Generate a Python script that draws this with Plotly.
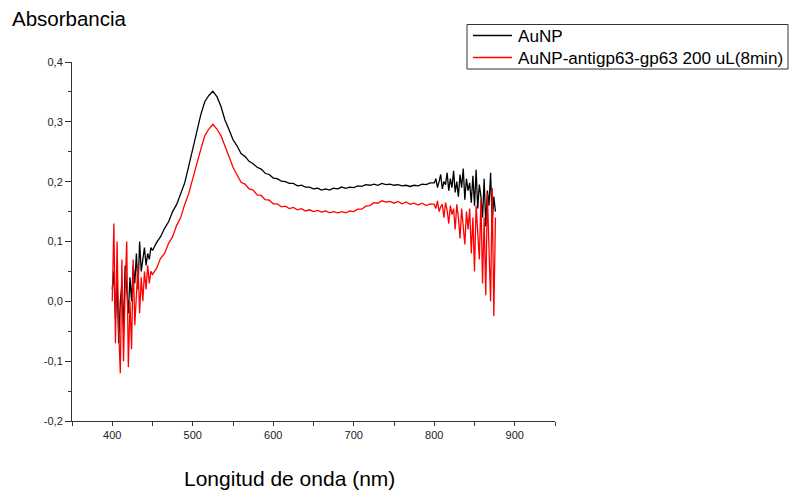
import plotly.graph_objects as go

# Wavelength grids (nm)
wl_left = list(range(400, 450, 2))          # 400..448
wl_mid = list(range(450, 800, 5))           # 450..795
wl_right = list(range(800, 877, 2))         # 800..876

# AuNP absorbance
aunp_left = [0.02, 0.05, -0.03, 0.04, -0.07, 0.0, 0.03, -0.05, 0.06, 0.01,
             -0.02, 0.04, 0.0, 0.06, 0.03, 0.08, 0.02, 0.1, 0.05, 0.07,
             0.09, 0.06, 0.08, 0.07, 0.09]
aunp_mid = [0.085, 0.098, 0.108, 0.122, 0.133, 0.15, 0.162, 0.18, 0.198, 0.226,
            0.255, 0.288, 0.312, 0.334, 0.344, 0.351, 0.342, 0.326, 0.303, 0.287,
            0.27, 0.26, 0.247, 0.242, 0.234, 0.23, 0.224, 0.221, 0.214, 0.212,
            0.206, 0.205, 0.201, 0.2, 0.197, 0.197, 0.193, 0.194, 0.191, 0.191,
            0.188, 0.189, 0.186, 0.188, 0.186, 0.189, 0.188, 0.191, 0.189, 0.191,
            0.19, 0.193, 0.192, 0.195, 0.194, 0.196, 0.194, 0.197, 0.195, 0.196,
            0.194, 0.195, 0.193, 0.194, 0.192, 0.194, 0.193, 0.196, 0.195, 0.198]
aunp_right = [0.198, 0.205, 0.19, 0.2, 0.212, 0.188, 0.2, 0.195, 0.215, 0.185,
              0.205, 0.19, 0.218, 0.182, 0.2, 0.175, 0.212, 0.19, 0.222, 0.17,
              0.205, 0.185, 0.198, 0.165, 0.21, 0.16, 0.22, 0.155, 0.195, 0.175,
              0.14, 0.205, 0.125, 0.185, 0.16, 0.215, 0.13, 0.175, 0.15]

# AuNP-antigp63-gp63 absorbance
conj_left = [0.0, 0.13, -0.07, 0.1, -0.05, -0.12, 0.07, -0.1, 0.02, 0.1,
             -0.11, 0.0, -0.08, 0.07, -0.04, 0.02, 0.06, -0.02, 0.04, 0.0,
             0.05, 0.02, 0.06, 0.03, 0.05]
conj_mid = [0.045, 0.055, 0.072, 0.08, 0.097, 0.108, 0.127, 0.14, 0.162, 0.18,
            0.205, 0.232, 0.254, 0.277, 0.288, 0.296, 0.288, 0.277, 0.258, 0.242,
            0.224, 0.212, 0.199, 0.196, 0.188, 0.186, 0.178, 0.177, 0.17, 0.169,
            0.163, 0.163, 0.158, 0.159, 0.155, 0.157, 0.153, 0.155, 0.151, 0.153,
            0.15, 0.152, 0.149, 0.151, 0.148, 0.15, 0.148, 0.15, 0.148, 0.151,
            0.15, 0.154, 0.154, 0.159, 0.16, 0.165, 0.164, 0.168, 0.166, 0.167,
            0.164, 0.167, 0.163, 0.166, 0.162, 0.164, 0.161, 0.164, 0.16, 0.163]
conj_right = [0.162, 0.155, 0.168, 0.15, 0.158, 0.162, 0.14, 0.165, 0.152, 0.13,
              0.16, 0.145, 0.155, 0.12, 0.162, 0.14, 0.105, 0.155, 0.13, 0.095,
              0.15, 0.12, 0.155, 0.08, 0.14, 0.05, 0.16, 0.11, 0.07, 0.17,
              0.03, 0.14, 0.01, 0.18, 0.1, 0.0, 0.19, -0.025, 0.14]

wavelength = wl_left + wl_mid + wl_right
aunp = aunp_left + aunp_mid + aunp_right
conj = conj_left + conj_mid + conj_right

series_names = ["AuNP", "AuNP-antigp63-gp63 200 uL(8min)"]
series_colors = ["black", "#ff0000"]

y_tickvals = [-0.2, -0.1, 0.0, 0.1, 0.2, 0.3, 0.4]
y_ticktext = ["-0,2", "-0,1", "0,0", "0,1", "0,2", "0,3", "0,4"]

FONT = "Liberation Sans, Arial, sans-serif"

# page body has an 8px margin, so figure coordinates are offset by -8
L, T, PW, PH = 64, 54, 483, 359
W, H = 797, 495


def px(xf):
    return (xf - L) / PW


def py(yf):
    return (T + PH - yf) / PH


fig = go.Figure()
for name, vals, col in zip(series_names, [aunp, conj], series_colors):
    fig.add_trace(go.Scatter(x=wavelength, y=vals, mode="lines", name=name,
                             line=dict(color=col, width=1.3), showlegend=False))

# legend box drawn by hand (compact, like the original)
shapes = [dict(type="rect", xref="paper", yref="paper",
               x0=px(459), x1=px(780), y0=py(61), y1=py(16.5),
               line=dict(color="#333", width=1), fillcolor="white", layer="above")]
annotations = []
for i, (name, col) in enumerate(zip(series_names, series_colors)):
    yy = 27.5 + i * 22
    shapes.append(dict(type="line", xref="paper", yref="paper",
                       x0=px(465), x1=px(504), y0=py(yy), y1=py(yy),
                       line=dict(color=col, width=1.3), layer="above"))
    annotations.append(dict(text=name, xref="paper", yref="paper",
                            x=px(508), y=py(yy + 1), xanchor="left", yanchor="middle",
                            showarrow=False,
                            font=dict(size=17.1, family=FONT, color="black")))

annotations += [
    dict(text="Absorbancia", xref="paper", yref="paper",
         x=px(2), y=py(10), xanchor="left", yanchor="middle",
         showarrow=False, font=dict(size=20.5, family=FONT, color="black")),
    dict(text="Longitud de onda (nm)", xref="paper", yref="paper",
         x=px(281), y=py(470), xanchor="center", yanchor="middle",
         showarrow=False, font=dict(size=21, family=FONT, color="black")),
]

fig.update_layout(
    width=W, height=H,
    margin=dict(l=L, r=W - L - PW, t=T, b=H - T - PH, autoexpand=False),
    paper_bgcolor="white", plot_bgcolor="white",
    font=dict(family=FONT, color="black"),
    showlegend=False,
    xaxis=dict(range=[350, 950], showgrid=False, zeroline=False,
               showline=True, linecolor="#333", linewidth=1,
               ticks="outside", ticklen=4, tickcolor="#333",
               tick0=400, dtick=100,
               tickfont=dict(size=11, family=FONT, color="#222"),
               minor=dict(tickmode="linear", tick0=350, dtick=50, ticks="outside",
                          ticklen=4, tickcolor="#333")),
    yaxis=dict(range=[-0.2, 0.4], showgrid=False, zeroline=False,
               showline=True, linecolor="#333", linewidth=1,
               tickmode="array", tickvals=y_tickvals, ticktext=y_ticktext,
               ticks="outside", ticklen=6, tickcolor="#333",
               tickfont=dict(size=11, family=FONT, color="#222"),
               minor=dict(tickmode="linear", tick0=0, dtick=0.05, ticks="outside",
                          ticklen=3, tickcolor="#333")),
    shapes=shapes,
    annotations=annotations,
)

fig.write_html("out.html")
